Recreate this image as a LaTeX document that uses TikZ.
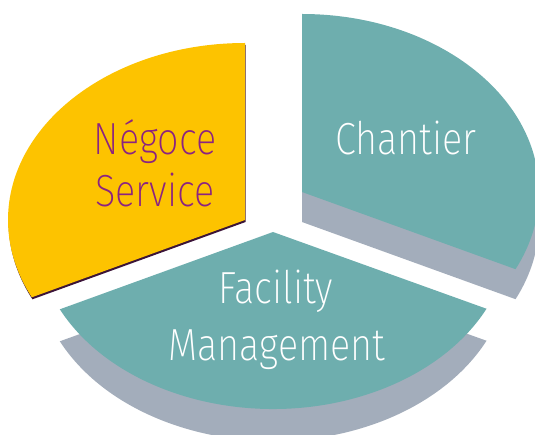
\documentclass[tikz,border=0pt]{standalone}
\usepackage{fontspec}
\setmainfont{Fira Sans ExtraLight}[FakeStretch=0.84]
\definecolor{pieyellow}{HTML}{FDC300}
\definecolor{pieteal}{HTML}{6EAEAE}
\definecolor{piegrey}{HTML}{A3ADBB}
\definecolor{piepurple}{HTML}{8B2381}
\definecolor{piedark}{HTML}{3B1438}
\tikzset{
  lbl/.style={anchor=base, inner sep=0pt, font=\fontsize{45}{52}\selectfont},
  whitelbl/.style={lbl, text=white},
  purplelbl/.style={lbl, text=piepurple},
}
\begin{document}
\begin{tikzpicture}[x=1pt,y=1pt]
\useasboundingbox (0,0) rectangle (535,434);
\begin{scope}
\clip (0,0) rectangle (535,434);
% Chantier slice (depth then top)
\fill[piegrey] (302,212) -- (302,390) arc[start angle=90, end angle=-25.7, x radius=237, y radius=178] -- cycle;
\fill[pieteal] (302,242) -- (302,420) arc[start angle=90, end angle=-25.7, x radius=237, y radius=178] -- cycle;
% Facility slice
\fill[piegrey] (273,170) -- +({237*cos(205.9)},{177*sin(205.9)}) arc[start angle=205.9, end angle=334.3, x radius=237, y radius=177] -- cycle;
\fill[pieteal] (273,202) -- +({237*cos(205.9)},{177*sin(205.9)}) arc[start angle=205.9, end angle=334.3, x radius=237, y radius=177] -- cycle;
% Negoce slice
\fill[piedark] (245.6,212) -- (245.6,389) arc[start angle=90, end angle=205.9, x radius=237, y radius=177] -- cycle;
\fill[pieyellow] (245,214) -- (245,391) arc[start angle=90, end angle=205.9, x radius=237, y radius=177] -- cycle;
\end{scope}
\node[purplelbl] (negoce) at (155,279) {Négoce};
\node[purplelbl] (service) at (155,227) {Service};
\node[whitelbl] (chantier) at (406,279) {Chantier};
\node[whitelbl] (facility) at (276,131) {Facility};
\node[whitelbl] (management) at (277,74) {Management};
\end{tikzpicture}
\end{document}
